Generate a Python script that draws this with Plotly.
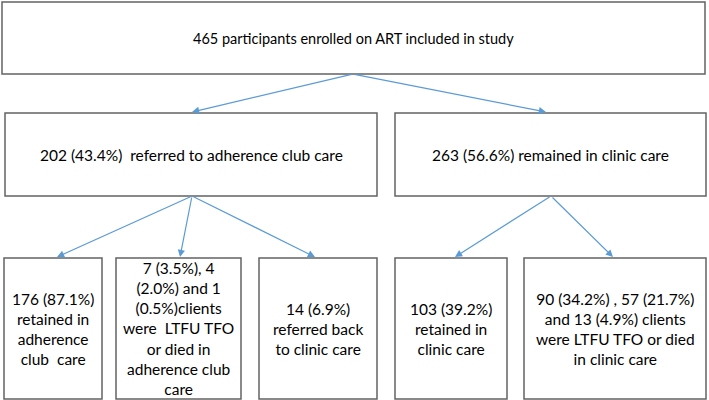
import plotly.graph_objects as go

# ---- data (box texts) ----
top_label = ["465 participants enrolled on ART included in study"]
mid_labels = ["202 (43.4%)  referred to adherence club care",
              "263 (56.6%) remained in clinic care"]
bottom_labels = [
    "176 (87.1%)<br>retained in<br>adherence<br>club  care",
    "7 (3.5%), 4<br>(2.0%) and 1<br>(0.5%)clients<br>were  LTFU TFO<br>or died in<br>adherence club<br>care",
    "14 (6.9%)<br>referred back<br>to clinic care",
    "103 (39.2%)<br>retained in<br>clinic care",
    "90 (34.2%) , 57 (21.7%)<br>and 13 (4.9%) clients<br>were LTFU TFO or died<br>in clinic care",
]

# ---- layout geometry (pixel-like coordinates) ----
top_box = (2, 2, 705, 74)
mid_boxes = [(5, 113, 377, 196), (395, 113, 706, 196)]
bot_boxes = [(4, 258, 102, 399), (116, 258, 241, 399), (259, 258, 377, 399),
             (395, 258, 507, 399), (524, 258, 706, 399)]
# arrows: (tail_x, tail_y, head_x, head_y)
arrows = [(353, 74, 192, 112), (353, 74, 546, 112),
          (192, 196, 57, 257), (192, 196, 180, 257), (192, 196, 315, 257),
          (551, 196, 455, 257), (551, 196, 613, 257)]

BOX_COLOR = "#636363"
ARROW_COLOR = "#5b9bd5"
FONT = "Lato"

fig = go.Figure()
fig.add_trace(go.Scatter(x=[0, 709], y=[0, 400], mode="markers",
                         marker=dict(opacity=0), hoverinfo="skip", showlegend=False))

shapes = []
annotations = []

def add_box(b, text, size):
    x0, y0, x1, y1 = b
    shapes.append(dict(type="rect", xref="x", yref="y", x0=x0, y0=y0, x1=x1, y1=y1,
                       line=dict(color=BOX_COLOR, width=1.5), fillcolor="white", layer="below"))
    annotations.append(dict(x=(x0 + x1) / 2, y=(y0 + y1) / 2, xref="x", yref="y",
                            text=text, showarrow=False, align="center",
                            xanchor="center", yanchor="middle",
                            font=dict(family=FONT, size=size, color="#000000")))

add_box(top_box, top_label[0], 14.5)
for b, t in zip(mid_boxes, mid_labels):
    add_box(b, t, 15.5)
for b, t in zip(bot_boxes, bottom_labels):
    add_box(b, t, 15.5)

for tx, ty, hx, hy in arrows:
    annotations.append(dict(x=hx, y=hy, ax=tx, ay=ty, xref="x", yref="y",
                            axref="x", ayref="y", text="", showarrow=True,
                            arrowhead=2, arrowsize=1.2, arrowwidth=1.2,
                            arrowcolor=ARROW_COLOR, standoff=0))

fig.update_layout(
    width=709, height=400,
    margin=dict(l=0, r=0, t=0, b=0),
    paper_bgcolor="white", plot_bgcolor="white",
    xaxis=dict(range=[0, 709], visible=False, fixedrange=True),
    yaxis=dict(range=[400, 0], visible=False, fixedrange=True),
    shapes=shapes, annotations=annotations,
    showlegend=False,
)

fig.write_html("out.html", config={"displayModeBar": False},
               post_script="document.body.style.margin='0';document.body.style.padding='0';")
